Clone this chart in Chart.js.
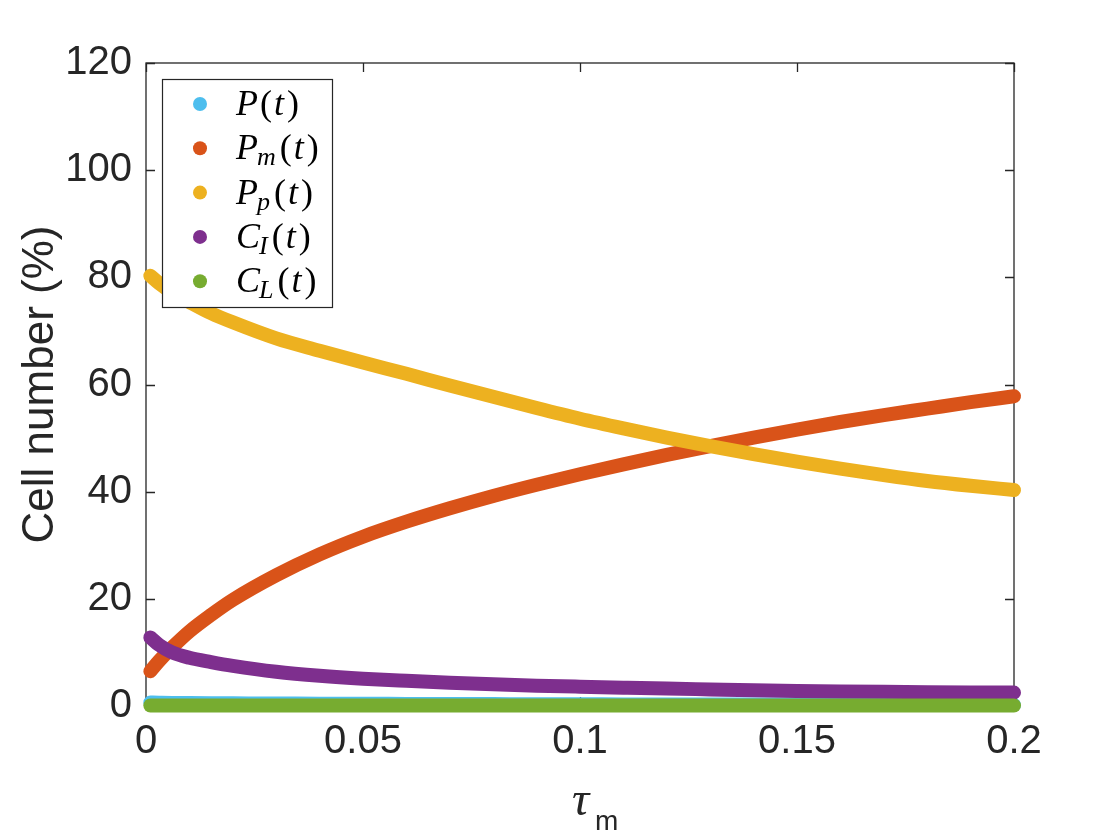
<!DOCTYPE html>
<html>
<head>
<meta charset="utf-8">
<script src="https://cdn.jsdelivr.net/npm/chart.js@4.4.1/dist/chart.umd.min.js"></script>
<style>
html,body{margin:0;padding:0;background:#ffffff;}
#wrap{width:1120px;height:840px;position:relative;}
</style>
</head>
<body>
<div id="wrap"><canvas id="c" width="1120" height="840"></canvas></div>
<script>
// ---- data ----
const tauValues = [0.001,0.003,0.006,0.01,0.015,0.02,0.03,0.04,0.05,0.06,0.07,0.08,0.09,0.10,0.11,0.12,0.13,0.14,0.15,0.16,0.17,0.18,0.19,0.20];
const P_values  = [0.65,0.62,0.58,0.55,0.52,0.5,0.46,0.44,0.41,0.39,0.37,0.35,0.33,0.32,0.3,0.29,0.28,0.27,0.26,0.25,0.24,0.23,0.22,0.21];
const Pm_values = [6.5,8.4,10.9,13.9,17.0,19.8,24.4,28.3,31.6,34.4,36.9,39.2,41.3,43.25,45.1,46.85,48.5,50.1,51.6,53.0,54.3,55.5,56.7,57.8];
const Pp_values = [80.3,78.9,77.2,75.4,73.3,71.6,68.6,66.3,64.1,62.0,59.8,57.7,55.6,53.6,51.8,50.1,48.5,47.0,45.6,44.3,43.1,42.0,41.1,40.3];
const CI_values = [12.8,11.4,10.0,9.0,8.2,7.5,6.4,5.65,5.1,4.7,4.35,4.05,3.8,3.6,3.42,3.25,3.1,2.95,2.82,2.72,2.64,2.58,2.53,2.5];
const CL_values = [0.08,0.08,0.08,0.08,0.08,0.08,0.08,0.08,0.08,0.08,0.08,0.08,0.08,0.08,0.08,0.08,0.08,0.08,0.08,0.08,0.08,0.08,0.08,0.08];

const xTickValues = [0,0.05,0.1,0.15,0.2];
const xTickLabels = ['0','0.05','0.1','0.15','0.2'];
const yTickValues = [0,20,40,60,80,100,120];
const yTickLabels = ['0','20','40','60','80','100','120'];

const legendMain = ['P','P','P','C','C'];
const legendSub  = ['','m','p','I','L'];
const seriesColors = ['#4DBEEE','#D95319','#EDB120','#7E2F8E','#77AC30'];
const seriesValues = [P_values,Pm_values,Pp_values,CI_values,CL_values];

const AXIS_COLOR = '#262626';
const SANS = '"Liberation Sans", Arial, Helvetica, sans-serif';
const SERIF = '"Liberation Serif", "Times New Roman", serif';

function toPoints(vals){ return tauValues.map((t,i)=>({x:t,y:vals[i]})); }

const datasets = seriesValues.map((vals,i)=>({
  label: legendMain[i] + legendSub[i],
  data: toPoints(vals),
  borderColor: seriesColors[i],
  backgroundColor: seriesColors[i],
  borderWidth: 14,
  borderCapStyle: 'round',
  borderJoinStyle: 'round',
  pointRadius: 0,
  cubicInterpolationMode: 'monotone',
  clip: false,
  order: 5 - i
}));

const matlabPlugin = {
  id: 'matlabAxes',
  beforeDatasetsDraw(chart){
    const {ctx, chartArea:{left,right,top,bottom}, scales:{x,y}} = chart;
    ctx.save();
    ctx.strokeStyle = AXIS_COLOR;
    ctx.lineWidth = 1.3;
    ctx.strokeRect(left, top, right-left, bottom-top);
    ctx.beginPath();
    yTickValues.forEach(v=>{
      const py = Math.round(y.getPixelForValue(v))+0.5;
      ctx.moveTo(left,py); ctx.lineTo(left+9,py);
      ctx.moveTo(right,py); ctx.lineTo(right-9,py);
    });
    xTickValues.forEach(v=>{
      const px = Math.round(x.getPixelForValue(v))+0.5;
      ctx.moveTo(px,bottom); ctx.lineTo(px,bottom-9);
      ctx.moveTo(px,top); ctx.lineTo(px,top+9);
    });
    ctx.stroke();
    ctx.restore();
  },
  afterDraw(chart){
    const {ctx, chartArea:{left,right,top,bottom}} = chart;
    ctx.save();
    // y-axis title
    ctx.fillStyle = AXIS_COLOR;
    ctx.font = '44px ' + SANS;
    ctx.textAlign = 'center';
    ctx.textBaseline = 'middle';
    ctx.translate(41, (top+bottom)/2);
    ctx.rotate(-Math.PI/2);
    ctx.fillText('Cell number (%)', 0, 0);
    ctx.restore();

    // x-axis title: tau_m
    ctx.save();
    ctx.fillStyle = AXIS_COLOR;
    ctx.textBaseline = 'alphabetic';
    ctx.textAlign = 'left';
    ctx.font = 'italic 48px ' + SERIF;
    const tauX = 572;
    ctx.fillText('\u03C4', tauX, 815);
    ctx.font = '28px ' + SANS;
    ctx.fillText('m', 595, 830);
    ctx.restore();

    // legend
    ctx.save();
    const bx = 162, by = 79, bw = 170, bh = 228;
    ctx.fillStyle = '#ffffff';
    ctx.fillRect(bx, by, bw, bh);
    ctx.strokeStyle = AXIS_COLOR;
    ctx.lineWidth = 1.2;
    ctx.strokeRect(bx+0.5, by+0.5, bw, bh);
    for (let i=0;i<legendMain.length;i++){
      const cy = 104 + i*44.3;
      ctx.fillStyle = seriesColors[i];
      ctx.beginPath();
      ctx.arc(200, cy, 7, 0, Math.PI*2);
      ctx.fill();
      ctx.fillStyle = '#000000';
      ctx.textAlign = 'left';
      ctx.textBaseline = 'alphabetic';
      const base = cy + 11;
      let tx = 236;
      ctx.font = 'italic 36px ' + SERIF;
      ctx.fillText(legendMain[i], tx, base);
      tx += ctx.measureText(legendMain[i]).width;
      if (legendSub[i]){
        ctx.font = 'italic 26px ' + SERIF;
        ctx.fillText(legendSub[i], tx - 1, base + 6);
        tx += ctx.measureText(legendSub[i]).width + 1;
      }
      tx += 2;
      ctx.font = '36px ' + SERIF;
      ctx.fillText('(', tx, base);
      tx += ctx.measureText('(').width + 2;
      ctx.font = 'italic 36px ' + SERIF;
      ctx.fillText('t', tx, base);
      tx += ctx.measureText('t').width + 3;
      ctx.font = '36px ' + SERIF;
      ctx.fillText(')', tx, base);
    }
    ctx.restore();
  }
};

new Chart(document.getElementById('c'), {
  type: 'line',
  data: { datasets },
  options: {
    responsive: false,
    animation: false,
    devicePixelRatio: 1,
    layout: { padding: { left: 0, top: 63, right: 106, bottom: 0 } },
    plugins: { legend: { display: false }, tooltip: { enabled: false } },
    scales: {
      x: {
        type: 'linear',
        min: 0, max: 0.2,
        afterBuildTicks: s => { s.ticks = xTickValues.map(v=>({value:v})); },
        afterFit: s => { s.height = 134; },
        grid: { display: false, drawTicks: false },
        border: { display: false },
        ticks: {
          padding: 12,
          color: AXIS_COLOR,
          font: { family: SANS, size: 40 },
          maxRotation: 0,
          callback: (v, i) => xTickLabels[i]
        }
      },
      y: {
        type: 'linear',
        min: 0, max: 120,
        afterBuildTicks: s => { s.ticks = yTickValues.map(v=>({value:v})); },
        afterFit: s => { s.width = 146; },
        grid: { display: false, drawTicks: false },
        border: { display: false },
        ticks: {
          padding: 14,
          color: AXIS_COLOR,
          font: { family: SANS, size: 40 },
          callback: (v, i) => yTickLabels[i]
        }
      }
    }
  },
  plugins: [matlabPlugin]
});
</script>
</body>
</html>
